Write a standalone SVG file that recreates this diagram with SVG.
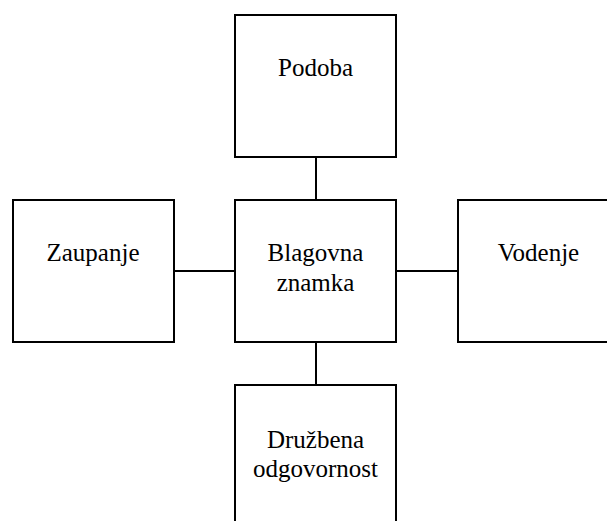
<svg xmlns="http://www.w3.org/2000/svg" width="607" height="521" viewBox="0 0 607 521">
<style>
.box{fill:#fff;stroke:#000;stroke-width:2}
.lbl{font-family:"Liberation Serif","Times New Roman",serif;font-size:25px;fill:#000;text-anchor:middle}
.con{stroke:#000;stroke-width:2;fill:none}
</style>
<rect width="607" height="521" fill="#fff"/>
<g id="connectors">
<line class="con" x1="316" y1="157" x2="316" y2="200"/>
<line class="con" x1="174" y1="271" x2="235" y2="271"/>
<line class="con" x1="396" y1="271" x2="458" y2="271"/>
<line class="con" x1="316" y1="342" x2="316" y2="385"/>
</g>
<g id="podoba">
<rect class="box" x="235" y="15" width="161" height="142"/>
<text class="lbl" x="315.5" y="76">Podoba</text>
</g>
<g id="blagovna-znamka">
<rect class="box" x="235" y="200" width="161" height="142"/>
<text class="lbl" x="315.5" y="261">Blagovna</text>
<text class="lbl" x="315.5" y="291">znamka</text>
</g>
<g id="zaupanje">
<rect class="box" x="13" y="200" width="161" height="142"/>
<text class="lbl" x="93" y="261">Zaupanje</text>
</g>
<g id="vodenje">
<rect class="box" x="458" y="200" width="161" height="142"/>
<text class="lbl" x="538.5" y="261">Vodenje</text>
</g>
<g id="druzbena-odgovornost">
<rect class="box" x="235" y="385" width="161" height="142"/>
<text class="lbl" x="315.5" y="448">Družbena</text>
<text class="lbl" x="315.5" y="477">odgovornost</text>
</g>
</svg>
